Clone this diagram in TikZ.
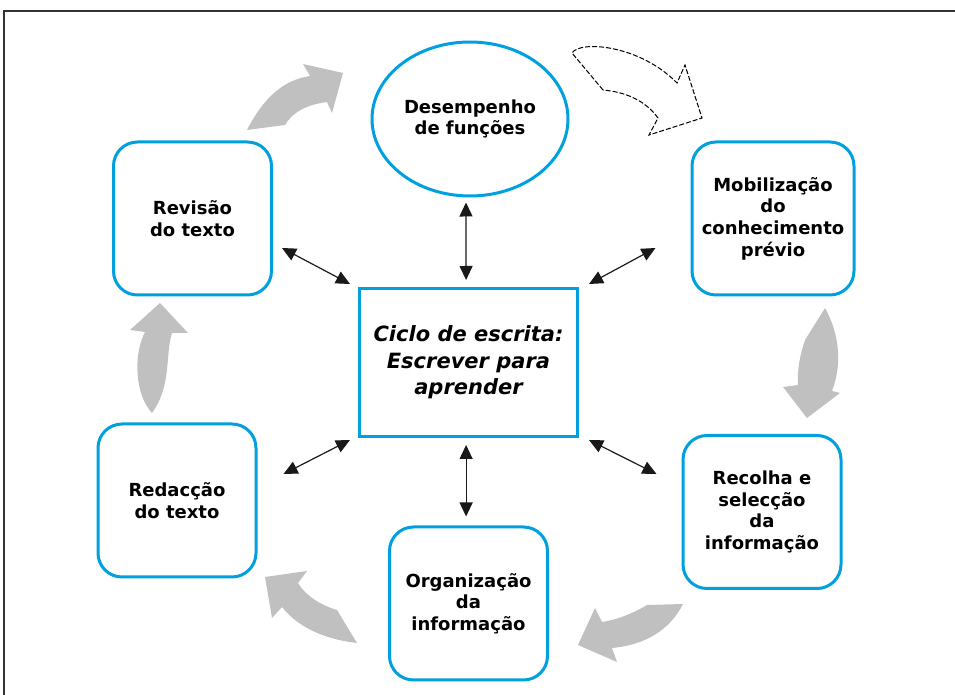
\documentclass[tikz,border=0pt]{standalone}
\usepackage{fontspec}
\setmainfont{DejaVu Sans}
\usepackage{xcolor}
\usetikzlibrary{shapes.geometric,arrows.meta}
\definecolor{boxblue}{RGB}{0,160,222}
\definecolor{arrowgray}{RGB}{192,192,192}

\begin{document}
\begin{tikzpicture}[x=0.5pt, y=-0.5pt,
  boxtext/.style={draw=boxblue, line width=1.5pt, align=center, inner sep=0pt, font=\fontsize{9}{10.8}\selectfont\bfseries},
  stage/.style={boxtext, rounded corners=12pt, minimum width=79pt, minimum height=76.5pt},
  biarrow/.style={>={Triangle[length=7pt,width=6.5pt]}, <->, line width=0.6pt, black!90},
  turn/.style={fill=arrowgray}]

\useasboundingbox (0,0) rectangle (955,695);
\draw [line width=0.8pt, black!80] (4,695) -- (4,11) -- (955,11);

\node [boxtext, ellipse, minimum width=98pt, minimum height=77pt] (des) at (470,119) {Desempenho\\de funções};
\node [stage] (rev) at (192.5,218.5) {Revisão\\do texto};
\node [stage, minimum width=81pt] (mob) at (773,218.5) {Mobilização\\do\\conhecimento\\prévio};
\node [stage] (rec) at (762,512) {Recolha e\\selecção\\da\\informação};
\node [stage] (org) at (468.5,603.5) {Organização\\da\\informação};
\node [stage] (red) at (177,500.5) {Redacção\\do texto};
\node [boxtext, minimum width=109pt, minimum height=74pt, font=\fontsize{10.5}{13.2}\selectfont\bfseries\itshape] (cyc) at (468.5,362.5) {Ciclo de escrita:\\Escrever para\\aprender};

\draw [biarrow, shorten <=2.5pt, shorten >=3.5pt] ([xshift=-2pt]des.south) -- ([xshift=-1.2pt]cyc.north);
\draw [biarrow, shorten <=3.5pt, shorten >=4.5pt] ([xshift=-1.2pt]cyc.south) -- ([xshift=-1.2pt]org.north);
\draw [biarrow] ([shift={(9,29.5)}]rev.east) -- ([shift={(-8,-3)}]cyc.north west);
\draw [biarrow] ([shift={(-35,29.5)}]mob.west) -- ([shift={(10,-3)}]cyc.north east);
\draw [biarrow] ([shift={(26,-26.5)}]red.east) -- ([shift={(-8,2)}]cyc.south west);
\draw [biarrow] ([shift={(-25,-38)}]rec.west) -- ([shift={(10,2)}]cyc.south east);

\fill [turn] (247,130) .. controls (265,95) and (285,80) .. (310,76) -- (303,64) -- (343,73) -- (332,113) -- (327,102) .. controls (305,105) and (292,113) .. (285,125) -- cycle;
\draw [dashed, dash pattern=on 2.5pt off 1pt, line width=0.5pt] (603,90) -- (572,53) .. controls (580,40) and (640,45) .. (677,83) -- (685,65) -- (702,118) -- (649,135) -- (658,118) .. controls (645,100) and (625,92) .. (603,90) -- cycle;
\fill [turn] (825,308) -- (805,340) .. controls (800,355) and (797,370) .. (798,385) -- (783,387) -- (807,418) -- (840,393) -- (832,391) .. controls (842,365) and (840,335) .. (825,308) -- cycle;
\fill [turn] (647,605) .. controls (630,615) and (615,620) .. (602,622) -- (595,608) -- (578,645) -- (617,662) -- (612,648) .. controls (645,645) and (670,630) .. (683,604) -- cycle;
\fill [turn] (337,610) .. controls (320,605) and (305,595) .. (298,583) -- (307,571) -- (265,577) -- (272,618) -- (282,607) .. controls (300,630) and (330,640) .. (357,643) -- cycle;
\fill [turn] (152,413) .. controls (135,395) and (133,355) .. (145,332) -- (130,330) -- (160,303) -- (188,333) -- (172,333) .. controls (165,355) and (172,385) .. (152,413) -- cycle;

\end{tikzpicture}
\end{document}
